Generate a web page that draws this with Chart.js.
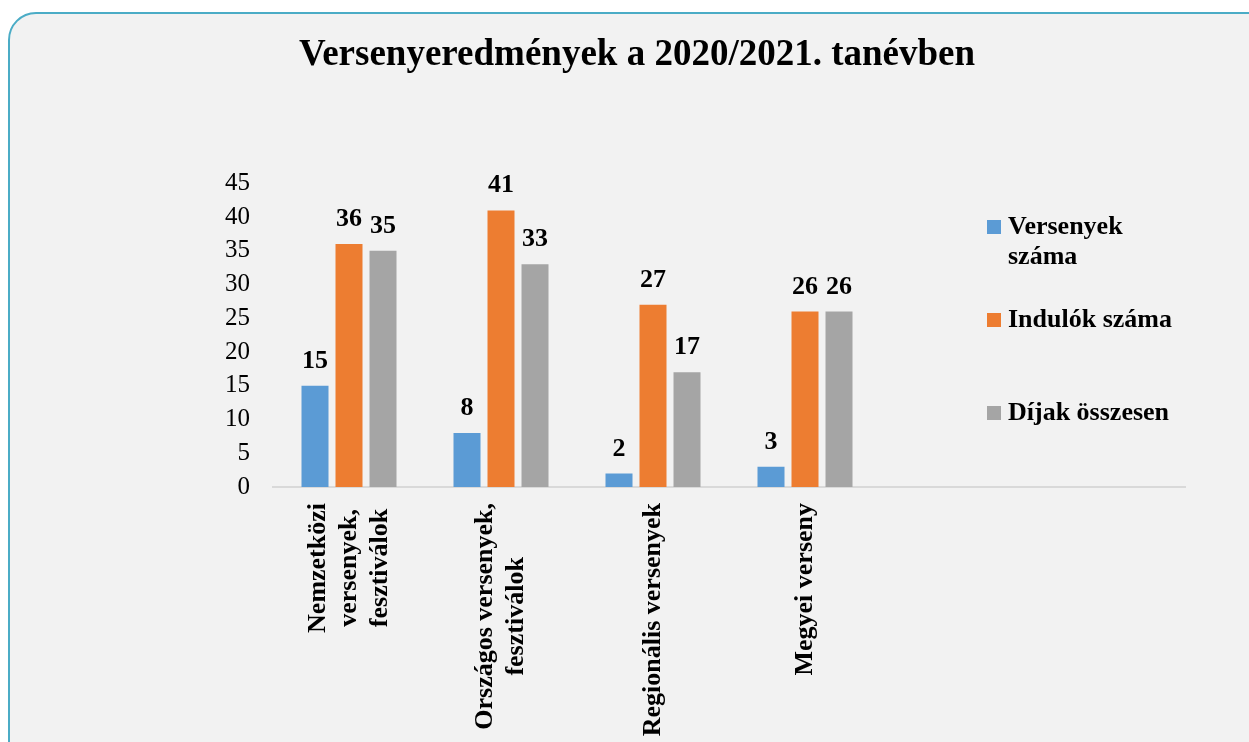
<!DOCTYPE html>
<html lang="hu">
<head>
<meta charset="utf-8">
<title>Versenyeredmények</title>
<script src="https://cdn.jsdelivr.net/npm/chart.js@4"></script>
<style>
  html, body { margin: 0; padding: 0; background: #fff; overflow: hidden; }
  #frame {
    position: absolute; left: 8px; top: 12px; width: 1280px; height: 800px;
    box-sizing: border-box; border: 2px solid #4bacc6; border-radius: 28px; background: #f2f2f2;
  }
  #chart { position: absolute; left: 0; top: 0; }
</style>
</head>
<body>
<div id="frame"></div>
<canvas id="chart" width="1249" height="742"></canvas>
<script>
const chartTitle = 'Versenyeredmények a 2020/2021. tanévben';
const categories = [
  ['Nemzetközi', 'versenyek,', 'fesztiválok'],
  ['Országos versenyek,', 'fesztiválok'],
  ['Regionális versenyek'],
  ['Megyei verseny']
];
const emptySlots = 2; // the axis runs on past the last group
const seriesNames = ['Versenyek száma', 'Indulók száma', 'Díjak összesen'];
const versenyek = [15, 8, 2, 3];
const indulok = [36, 41, 27, 26];
const dijak = [35, 33, 17, 26];
const colors = ['#5b9bd5', '#ed7d31', '#a5a5a5'];

const serif = '"Liberation Serif", "Times New Roman", serif';
Chart.defaults.font.family = serif;
Chart.defaults.color = '#000';

// value above every bar
const valuePlugin = {
  id: 'values',
  afterDatasetsDraw(chart) {
    const ctx = chart.ctx;
    ctx.save();
    ctx.font = 'bold 26px ' + serif;
    ctx.fillStyle = '#000';
    ctx.textAlign = 'center';
    ctx.textBaseline = 'alphabetic';
    chart.data.datasets.forEach((ds, i) => {
      chart.getDatasetMeta(i).data.forEach((bar, j) => {
        if (ds.data[j] == null) return;
        ctx.fillText(String(ds.data[j]), bar.x, bar.y - 18);
      });
    });
    ctx.restore();
  }
};

// rotated category labels, lines centred on the tick
const xLabelPlugin = {
  id: 'xLabels',
  afterDraw(chart) {
    const ctx = chart.ctx;
    const x = chart.scales.x;
    ctx.save();
    ctx.font = 'bold 26px ' + serif;
    ctx.fillStyle = '#000';
    ctx.textAlign = 'center';
    ctx.textBaseline = 'middle';
    categories.forEach((lines, i) => {
      const px = x.getPixelForValue(i);
      const w = Math.max(...lines.map(l => ctx.measureText(l).width));
      const top = x.top + 16;
      lines.forEach((line, j) => {
        ctx.save();
        ctx.translate(px + (j - (lines.length - 1) / 2) * 31, top + w / 2);
        ctx.rotate(-Math.PI / 2);
        ctx.fillText(line, 0, 0);
        ctx.restore();
      });
    });
    ctx.restore();
  }
};

function wrap(ctx, text, maxWidth) {
  const words = text.split(' ');
  const lines = [];
  let cur = '';
  words.forEach(w => {
    const test = cur ? cur + ' ' + w : w;
    if (cur && ctx.measureText(test).width > maxWidth) {
      lines.push(cur);
      cur = w;
    } else {
      cur = test;
    }
  });
  lines.push(cur);
  return lines;
}

// legend sitting over the empty right part of the plot
const legendPlugin = {
  id: 'sideLegend',
  afterDraw(chart) {
    const ctx = chart.ctx;
    ctx.save();
    ctx.font = 'bold 26px ' + serif;
    ctx.textAlign = 'left';
    ctx.textBaseline = 'middle';
    chart.data.datasets.forEach((ds, i) => {
      const top = 220 + i * 93;
      ctx.fillStyle = ds.backgroundColor;
      ctx.fillRect(987, top, 14, 14);
      ctx.fillStyle = '#000';
      wrap(ctx, ds.label, 180).forEach((line, j) => {
        ctx.fillText(line, 1008, top + 7 + j * 30);
      });
    });
    ctx.restore();
  }
};

const seriesData = [versenyek, indulok, dijak];

new Chart(document.getElementById('chart'), {
  type: 'bar',
  data: {
    labels: [...categories, ...Array(emptySlots).fill('')],
    datasets: seriesNames.map((name, i) => ({
      label: name,
      data: seriesData[i],
      backgroundColor: colors[i],
      categoryPercentage: 0.671,
      barPercentage: 0.794
    }))
  },
  options: {
    responsive: false,
    animation: false,
    layout: { padding: { left: 89, right: 64, top: 0, bottom: 0 } },
    plugins: {
      legend: { display: false },
      tooltip: { enabled: false },
      title: {
        display: true,
        text: chartTitle,
        color: '#000',
        font: { family: serif, size: 37, weight: 'bold', lineHeight: 1.2 },
        padding: { top: 33, bottom: 106 }
      }
    },
    scales: {
      x: {
        grid: { display: false, drawTicks: false },
        border: { display: true, color: '#d9d9d9', width: 2 },
        ticks: { display: false },
        afterFit(scale) { scale.height = 255; }
      },
      y: {
        min: 0,
        max: 45,
        ticks: { stepSize: 5, color: '#000', padding: 23, font: { family: serif, size: 25 } },
        grid: { display: false, drawTicks: false },
        border: { display: false },
        afterFit(scale) { scale.width = 184; }
      }
    }
  },
  plugins: [valuePlugin, xLabelPlugin, legendPlugin]
});
</script>
</body>
</html>
